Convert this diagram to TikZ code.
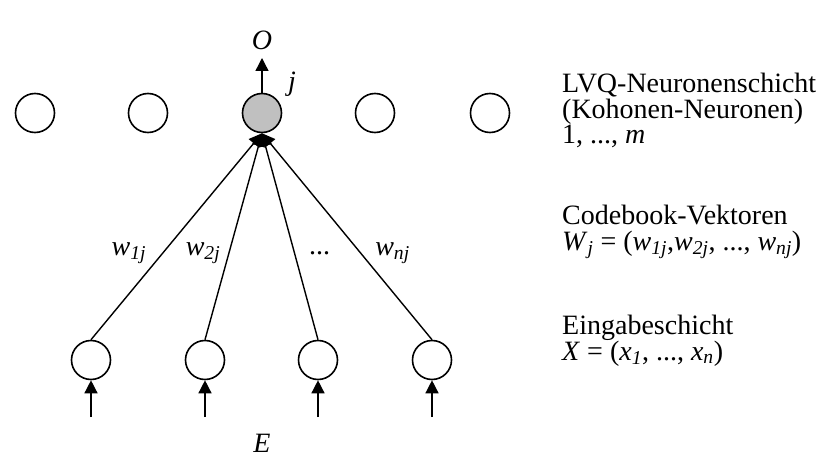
\documentclass[tikz,border=0pt]{standalone}
\usepackage{fontspec}
\setmainfont{Liberation Serif}
\usetikzlibrary{arrows.meta,positioning}
\definecolor{winner}{HTML}{C0C0C0}
\newcommand{\wsub}[1]{\textit{w}\textsubscript{\textit{#1}}}

\begin{document}
\begin{tikzpicture}[x=1pt,y=-1pt,
  neuron/.style={circle, draw, line width=1.6pt, minimum size=39pt, inner sep=0pt},
  conn/.style={line width=1.4pt, -{Triangle[length=13pt,width=13pt]}},
  lbl/.style={font=\fontsize{28}{28}\selectfont\itshape, inner sep=2pt},
  txt/.style={anchor=north west, font=\fontsize{28}{25.5}\selectfont, align=left, inner sep=0pt}]
  \useasboundingbox (0,0) rectangle (835,457);
  % Kohonen-Schicht
  \foreach \i/\x in {1/35,2/148,4/375,5/490}
    \node[neuron] (k\i) at (\x,113) {};
  \node[neuron, fill=winner] (k3) at (262,113) {};
  \coordinate (out) at (262,58);
  \draw[conn] (k3.north) -- (out);
  \node[lbl] (o) at (262,40) {O};
  \node[lbl] (j) at (292,84) {j};
  % Eingabeschicht
  \foreach \i/\x in {1/91,2/205,3/318,4/432} {
    \node[neuron] (e\i) at (\x,360) {};
    \coordinate (in\i) at (\x,417);
    \draw[conn] (in\i) -- (e\i.south);
  }
  \node[lbl] (ein) at (262,443) {E};
  % Gewichte
  \draw[conn] (e1.north) -- node[lbl, pos=.42, left=14pt] {\wsub{1j}} (k3.south);
  \draw[conn] (e2.north) -- node[lbl, pos=.42, left=6pt] {\wsub{2j}} (k3.south);
  \draw[conn] (e3.north) -- node[lbl, pos=.42, right=12pt, font=\fontsize{28}{28}\selectfont] {...} (k3.south);
  \draw[conn] (e4.north) -- node[lbl, pos=.42, right=12pt] {\wsub{nj}} (k3.south);
  % Beschriftung rechts
  \node[txt] (lvq) at (562,73) {LVQ-Neuronenschicht\\(Kohonen-Neuronen)\\1, ..., \textit{m}};
  \node[txt] (cb) at (562,205) {Codebook-Vektoren\\\textit{W}\textsubscript{\textit{j}} = (\wsub{1j},\wsub{2j}, ..., \wsub{nj})};
  \node[txt] (eg) at (562,315) {Eingabeschicht\\\textit{X} = (\textit{x}\textsubscript{\textit{1}}, ..., \textit{x}\textsubscript{\textit{n}})};
\end{tikzpicture}
\end{document}
